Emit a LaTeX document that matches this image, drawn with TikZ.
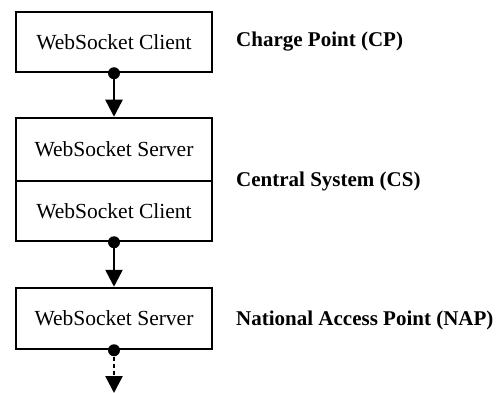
\documentclass[tikz,border=0pt]{standalone}
\usepackage{fontspec}
\setmainfont{Liberation Serif}
\usetikzlibrary{arrows.meta}
\begin{document}
\begin{tikzpicture}[x=1pt,y=-1pt,
  box/.style={draw, line width=2.5pt, minimum width=196pt, inner sep=0pt, font=\fontsize{21.5}{25}\selectfont},
  lbl/.style={anchor=west, inner sep=0pt, font=\fontsize{21}{25}\selectfont\bfseries},
  conn/.style={line width=2.5pt, -{Triangle[length=17pt,width=17pt]}},
  dotc/.style={circle, fill=black, inner sep=0pt, minimum size=12pt}]
\useasboundingbox (0,0) rectangle (503,393);
\node[box, minimum height=60pt] (cp) at (114,42) {WebSocket Client};
\node[box, minimum height=63pt] (css) at (114,149.5) {WebSocket Server};
\node[box, minimum height=60pt] (csc) at (114,211) {WebSocket Client};
\node[box, minimum height=61pt] (nap) at (114,318.5) {WebSocket Server};
\node[lbl] (lcp) at (236,42) {Charge Point (CP)};
\node[lbl] (lcs) at (236,181) {Central System (CS)};
\node[lbl] (lnap) at (236,320) {National Access Point (NAP)};
\node[dotc] (d1) at (cp.south) {};
\node[dotc] (d2) at (csc.south) {};
\node[dotc] (d3) at (nap.south) {};
\coordinate (end) at (114,393);
\draw[conn] (d1.center) -- (css.north);
\draw[conn] (d2.center) -- (nap.north);
\draw[conn, dash pattern=on 4pt off 3pt] (d3.center) -- (end);
\end{tikzpicture}
\end{document}
